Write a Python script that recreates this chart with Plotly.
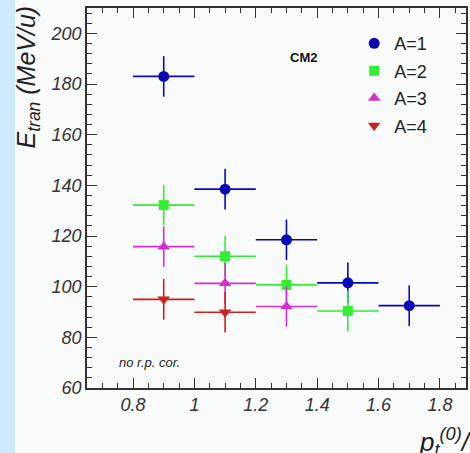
import plotly.graph_objects as go

# Data
pt_A1 = [0.9, 1.1, 1.3, 1.5, 1.7]
E_A1 = [183, 138.5, 118.5, 101.5, 92.5]
pt_A2 = [0.9, 1.1, 1.3, 1.5]
E_A2 = [132.2, 112, 100.7, 90.4]
pt_A3 = [0.9, 1.1, 1.3]
E_A3 = [115.8, 101.3, 92.2]
pt_A4 = [0.9, 1.1]
E_A4 = [95, 89.9]
x_err = 0.1
y_err = 8

series = [
    ("A=1", pt_A1, E_A1, "circle", "#0a0ab4", 11),
    ("A=2", pt_A2, E_A2, "square", "#33ee33", 10),
    ("A=3", pt_A3, E_A3, "triangle-up", "#d030d0", 11),
    ("A=4", pt_A4, E_A4, "triangle-down", "#cc2020", 11),
]

FONT = "Liberation Sans, Arial, Helvetica, sans-serif"
fig = go.Figure()
for name, xs, ys, sym, col, sz in series:
    fig.add_trace(go.Scatter(
        x=xs, y=ys, mode="markers", name=name, legendgroup=name,
        marker=dict(symbol=sym, color=col, size=sz, line=dict(width=0)),
        error_x=dict(type="constant", value=x_err, color=col, thickness=1.6, width=0),
        error_y=dict(type="constant", value=y_err, color=col, thickness=1.6, width=0),
    ))

L, R, T, B = 87, 4, 8, 65
W, H = 470, 453
pw = W - L - R
ph = H - T - B

fig.update_layout(
    width=W, height=H,
    margin=dict(l=L, r=R, t=T, b=B, pad=0, autoexpand=False),
    paper_bgcolor="#f8fbf9", plot_bgcolor="#f8fbf9",
    font=dict(family=FONT, color="#222222"),
    showlegend=True,
    legend=dict(x=0.705, y=0.955, xanchor="left", yanchor="top",
                bgcolor="rgba(0,0,0,0)", borderwidth=0,
                font=dict(size=18, family=FONT, color="#222222"),
                tracegroupgap=1, itemwidth=30),
    xaxis=dict(range=[0.65, 1.885], showgrid=False, zeroline=False, automargin=False,
               showline=True, linecolor="#333333", linewidth=1.5, mirror="allticks",
               ticks="inside", ticklen=10, tickcolor="#333333", tickwidth=1,
               tickvals=[0.8, 1.0, 1.2, 1.4, 1.6, 1.8],
               ticktext=["0.8", "1", "1.2", "1.4", "1.6", "1.8"],
               tickfont=dict(size=18, family=FONT, style="italic", color="#333333"),
               minor=dict(ticks="inside", ticklen=5, dtick=0.05, tick0=0.8,
                          tickcolor="#333333", showgrid=False)),
    yaxis=dict(range=[60, 210], showgrid=False, zeroline=False, automargin=False,
               showline=True, linecolor="#333333", linewidth=1.5, mirror="allticks",
               ticks="inside", ticklen=10, tickcolor="#333333", tickwidth=1,
               tickvals=[60, 80, 100, 120, 140, 160, 180, 200],
               tickfont=dict(size=18, family=FONT, style="italic", color="#333333"),
               minor=dict(ticks="inside", ticklen=5, dtick=4, tick0=60,
                          tickcolor="#333333", showgrid=False)),
)

# left light blue strip
fig.add_shape(type="rect", xref="paper", yref="paper",
              x0=(0 - L) / pw, x1=(15 - L) / pw, y0=-1, y1=2,
              fillcolor="#cde9fb", line=dict(width=0), layer="below")

# annotations
fig.add_annotation(x=(303 - L) / pw, y=1 - (57 - T) / ph,
                   xref="paper", yref="paper", xanchor="center", yanchor="middle",
                   text="<b>CM2</b>", showarrow=False,
                   font=dict(size=13, family=FONT, color="#111111"))
fig.add_annotation(x=(117 - L) / pw, y=1 - (362 - T) / ph,
                   xref="paper", yref="paper", xanchor="left", yanchor="middle",
                   text="<i>no r.p. cor.</i>",
                   showarrow=False, font=dict(size=13, family=FONT, color="#222222"))
fig.add_annotation(x=(28 - L) / pw, y=1 - (4 - T) / ph,
                   xref="paper", yref="paper", xanchor="center", yanchor="top",
                   textangle=-90,
                   text="<i>E<sub>tran</sub> (MeV/u)</i>",
                   showarrow=False, font=dict(size=25, family=FONT, color="#222222"))
fig.add_annotation(x=(417 - L) / pw, y=1 - (442 - T) / ph,
                   xref="paper", yref="paper", xanchor="left", yanchor="middle",
                   text="<i>p<sub>t</sub><sup>(0)</sup>/u</i>",
                   showarrow=False, font=dict(size=26, family=FONT, color="#222222"))

fig.write_html("out.html",
               config={"displayModeBar": False},
               post_script="document.body.style.margin='0';document.body.style.overflow='hidden';")
